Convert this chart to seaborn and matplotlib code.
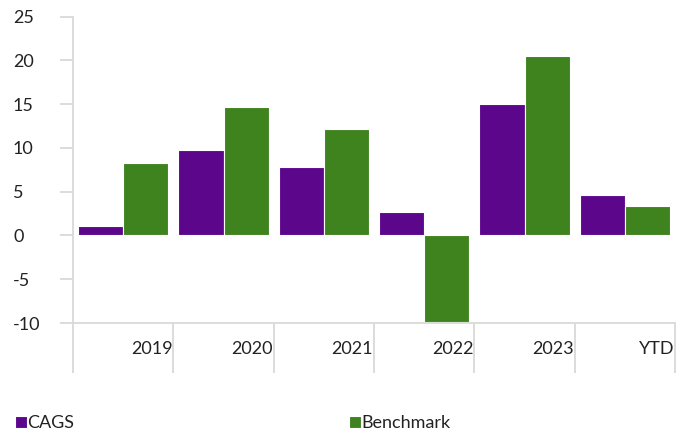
import matplotlib
matplotlib.use("Agg")
import matplotlib.pyplot as plt
import seaborn as sns
import pandas as pd
from matplotlib.ticker import FixedLocator, MultipleLocator

years = ["2019", "2020", "2021", "2022", "2023", "YTD"]
cags = [1.1, 9.7, 7.8, 2.7, 15.0, 4.6]
benchmark = [8.3, 14.7, 12.2, -9.9, 20.5, 3.4]
series_names = ["CAGS", "Benchmark"]
colors = ["#5C068C", "#3F831F"]

df = pd.DataFrame({
    "year": years * 2,
    "series": [series_names[0]] * len(years) + [series_names[1]] * len(years),
    "value": cags + benchmark,
})

sns.set_style("white")
plt.rcParams["font.family"] = ["Lato", "DejaVu Sans"]
plt.rcParams["font.size"] = 13
plt.rcParams["axes.unicode_minus"] = False

fig = plt.figure(figsize=(6.9, 4.3), dpi=100)
ax = fig.add_axes([0.1058, 0.2488, 0.8725, 0.7128])

sns.barplot(data=df, x="year", y="value", hue="series", palette=colors,
            width=0.9, edgecolor="white", linewidth=0.8, ax=ax, saturation=1)

ax.set_ylim(-10, 25)
ax.set_xlim(-0.5, len(years) - 0.5)
ax.yaxis.set_major_locator(MultipleLocator(5))
ax.set_xlabel("")
ax.set_ylabel("")

grey = "#D9D9D9"
for side in ["top", "right"]:
    ax.spines[side].set_visible(False)
for side in ["left", "bottom"]:
    ax.spines[side].set_color(grey)
    ax.spines[side].set_linewidth(1.3)

# y ticks: outward marks, labels left-aligned at the figure edge
ax.tick_params(axis="y", which="major", direction="out", length=9.4, width=1.3,
               color=grey, pad=33.8, labelcolor="#222222", left=True)
for lab in ax.get_yticklabels():
    lab.set_horizontalalignment("left")

# x: dividers between categories, labels right-aligned at each divider
ax.xaxis.set_minor_locator(FixedLocator([i - 0.5 for i in range(len(years) + 1)]))
ax.xaxis.set_major_locator(FixedLocator([i + 0.49 for i in range(len(years))]))
ax.set_xticklabels(years)
ax.tick_params(axis="x", which="minor", direction="out", length=36, width=1.3,
               color=grey, bottom=True)
ax.tick_params(axis="x", which="major", length=0, pad=13, labelcolor="#222222")
for lab in ax.get_xticklabels():
    lab.set_horizontalalignment("right")

handles, labels = ax.get_legend_handles_labels()
ax.get_legend().remove()
fig.legend(handles, labels, loc="lower left", bbox_to_anchor=(0.006, -0.028),
           ncol=2, frameon=False, handlelength=0.65, handleheight=0.65,
           handletextpad=0.05, columnspacing=15.2, borderaxespad=0.2,
           labelcolor="#222222")

fig.savefig("out.png", dpi=100)
